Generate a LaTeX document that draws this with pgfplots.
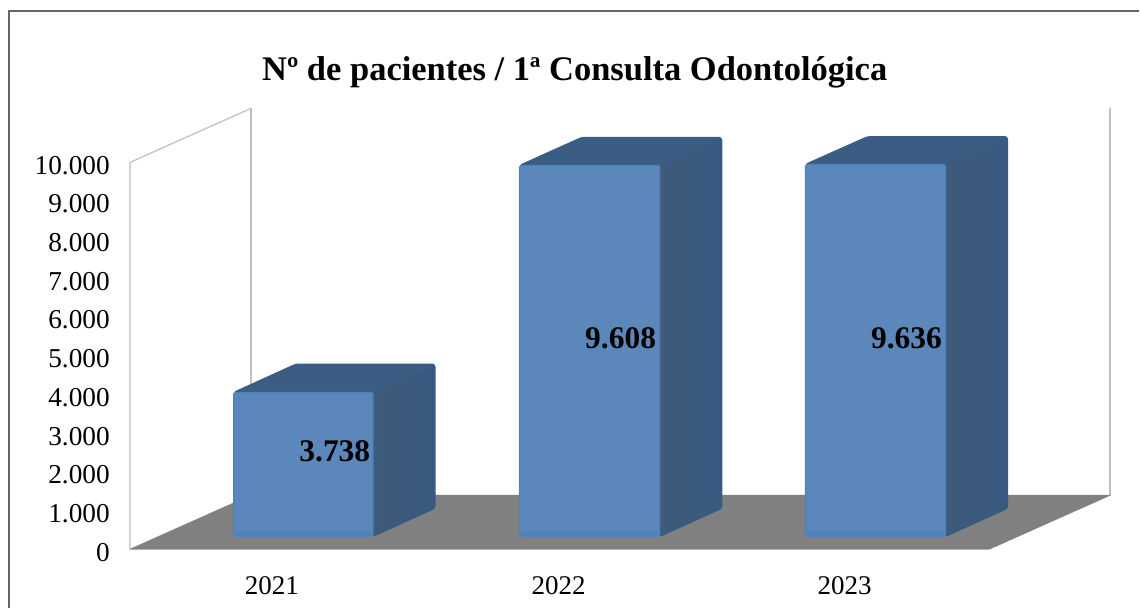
\documentclass[border=0pt]{standalone}
\usepackage{fontspec}
\setmainfont{Liberation Serif}
\usepackage{pgfplots}
\pgfplotsset{compat=1.18}
\definecolor{front}{HTML}{5C87BA}
\definecolor{frontb}{HTML}{4F82BD}
\definecolor{topc}{HTML}{3B5C83}
\definecolor{sidea}{HTML}{3F5A7A}
\definecolor{sideb}{HTML}{385A80}
\pgfplotsset{
  barside/.style={shade, left color=sidea, right color=sideb, draw=sideb, line width=1.5pt, line join=round, rounded corners=2.5pt},
  bartop/.style={fill=topc, draw=topc, line width=1.5pt, line join=round, rounded corners=2.5pt},
  barfront/.style={fill=front, draw=frontb, line width=1.5pt, line join=round, rounded corners=1.5pt},
  barstrip/.style={fill=frontb, draw=none},
}
\begin{document}
\begin{tikzpicture}
\begin{axis}[
  scale only axis, width=1140pt, height=608pt,
  xmin=0, xmax=1140, ymin=-1511.6, ymax=14199,
  axis line style={draw=none}, tick style={draw=none},
  xtick={272,559,845}, xticklabels={2021,2022,2023},
  ytick={0,1000,...,10000},
  scaled y ticks=false,
  /pgf/number format/assume math mode=true,
  /pgf/number format/.cd, 1000 sep={.}, /tikz/.cd,
  yticklabel style={anchor=east, xshift=110pt, yshift=-3pt, inner sep=0pt, font=\fontsize{27.3}{30}\selectfont},
  xticklabel style={anchor=center, yshift=22pt, inner sep=0pt, font=\fontsize{27}{30}\selectfont},
  title={Nº de pacientes / 1ª Consulta Odontológica},
  title style={at={(0.5044,0.8716)}, anchor=center, inner sep=0pt, font=\fontsize{34.5}{37}\selectfont\bfseries},
  clip=false,
]
% chart frame
\addplot[draw=black!60, line width=1.3pt] coordinates {(9,-1511.6)(9,13915)(1140,13915)};
% walls
\addplot[draw=black!25, line width=1.2pt] coordinates {(130,0)(130,10000)(251,11395)};
\addplot[draw=black!25, line width=1.8pt] coordinates {(251,11395)(251,1395)};
\addplot[draw=black!25, line width=1.8pt] coordinates {(1111,1395)(1111,11395)};
% floor
\addplot[fill=black!50, draw=black!50, line width=0.5pt] coordinates {(130,0)(251,1395)(1111,1395)(990,0)} -- cycle;
\addplot[draw=black!30, line width=1pt] coordinates {(130,-10)(990,-10)};
% 2021
\addplot[barside] coordinates {(373,336)(435,1060)(435,4780)(373,4050)} -- cycle;
\addplot[bartop] coordinates {(234,4050)(373,4050)(435,4780)(296,4780)} -- cycle;
\addplot[barfront] coordinates {(234,336)(373,336)(373,4050)(234,4050)} -- cycle;
\addplot[barstrip] coordinates {(234,336)(373,336)(373,480)(234,480)} -- cycle;
% 2022
\addplot[barside] coordinates {(660,336)(722,1060)(722,10640)(660,9920)} -- cycle;
\addplot[bartop] coordinates {(520,9920)(660,9920)(722,10640)(582,10640)} -- cycle;
\addplot[barfront] coordinates {(520,336)(660,336)(660,9920)(520,9920)} -- cycle;
\addplot[barstrip] coordinates {(520,336)(660,336)(660,480)(520,480)} -- cycle;
% 2023
\addplot[barside] coordinates {(946,336)(1008,1060)(1008,10660)(946,9945)} -- cycle;
\addplot[bartop] coordinates {(806,9945)(946,9945)(1008,10660)(868,10660)} -- cycle;
\addplot[barfront] coordinates {(806,336)(946,336)(946,9945)(806,9945)} -- cycle;
\addplot[barstrip] coordinates {(806,336)(946,336)(946,480)(806,480)} -- cycle;
% data labels
\addplot[draw=none, mark=none, nodes near coords, point meta=explicit symbolic,
  nodes near coords align={anchor=center},
  every node near coord/.style={anchor=center, inner sep=0pt, font=\fontsize{31.5}{34}\selectfont\bfseries, text=black}]
  table[meta=label] {
x y label
335 2540 3.738
621 5465 9.608
907 5465 9.636
};
\end{axis}
\end{tikzpicture}
\end{document}
